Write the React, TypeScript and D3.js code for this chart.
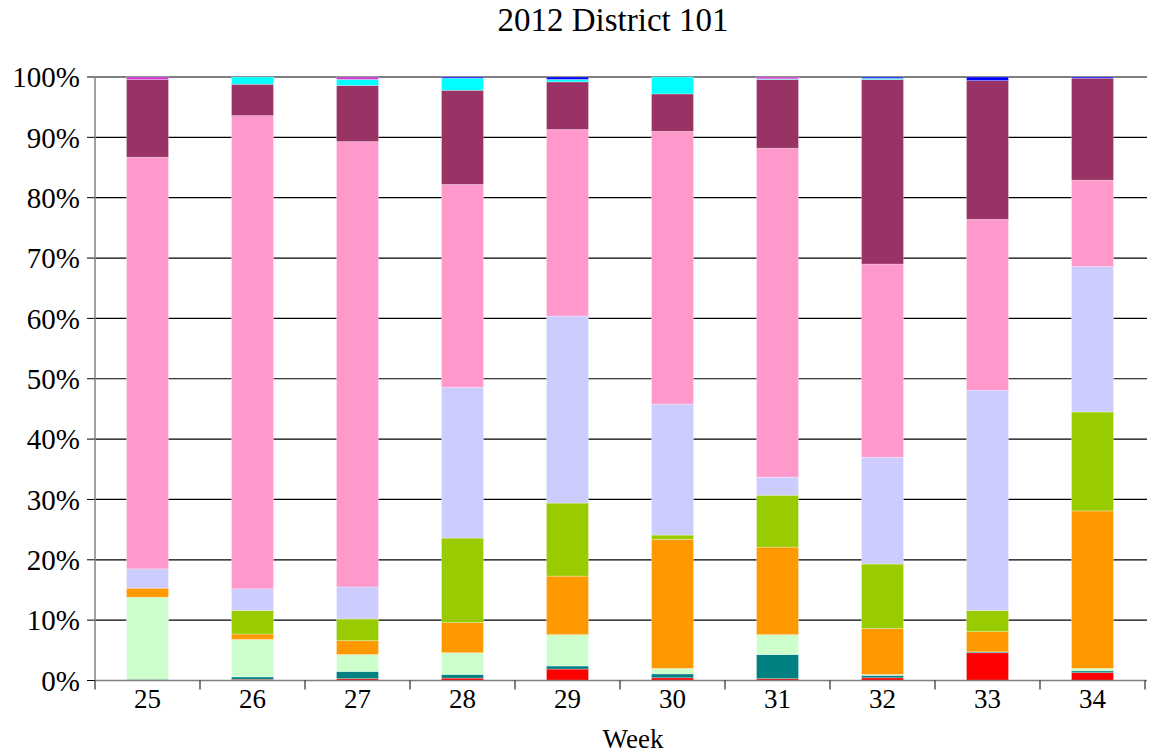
import React from "react";
import * as d3 from "d3";

const weeks = ["25", "26", "27", "28", "29", "30", "31", "32", "33", "34"];
const seriesKeys = ["s1", "s2", "s3", "s4", "s5", "s6", "s7", "s8", "s9", "s10", "s11"];
const seriesColors = ["#FF0000", "#008080", "#CCFFCC", "#FF9900", "#99CC00", "#CCCCFF", "#FF99CC", "#993366", "#00FFFF", "#0000FF", "#CC33CC"];

// percentage shares per week, bottom to top
const s1 = [0.1, 0.2, 0.3, 0.4, 1.9, 0.45, 0.3, 0.45, 4.6, 1.3];
const s2 = [0.1, 0.4, 1.2, 0.6, 0.5, 0.65, 4.0, 0.4, 0.15, 0.3];
const s3 = [13.6, 6.2, 2.8, 3.6, 5.2, 0.9, 3.3, 0.15, 0, 0.4];
const s4 = [1.5, 0.9, 2.3, 5.0, 9.7, 21.4, 14.5, 7.6, 3.35, 26.1];
const s5 = [0, 3.9, 3.6, 14.0, 12.1, 0.7, 8.6, 10.7, 3.5, 16.4];
const s6 = [3.2, 3.6, 5.3, 25.0, 31.0, 21.7, 3.0, 17.7, 36.5, 24.1];
const s7 = [68.2, 78.4, 73.8, 33.6, 30.9, 45.2, 54.5, 32.0, 28.3, 14.3];
const s8 = [12.9, 5.2, 9.3, 15.6, 7.9, 6.2, 11.4, 30.6, 23.0, 16.9];
const s9 = [0, 1.2, 1.0, 2.0, 0.4, 2.8, 0.1, 0.2, 0, 0];
const s10 = [0, 0, 0, 0.2, 0.4, 0, 0, 0.2, 0.6, 0.2];
const s11 = [0.4, 0, 0.4, 0, 0, 0, 0.3, 0, 0, 0];

const yTicks = [0, 10, 20, 30, 40, 50, 60, 70, 80, 90, 100];

const allSeries = [s1, s2, s3, s4, s5, s6, s7, s8, s9, s10, s11];

const rows = weeks.map((w, i) => {
  const r: any = { week: w };
  seriesKeys.forEach((k, j) => (r[k] = allSeries[j][i]));
  return r;
});

const W = 1149;
const H = 756;
const left = 95;
const right = 1145;
const top = 77;
const bottom = 680.5;
const FONT = "'Liberation Serif', 'Times New Roman', serif";

export default function App() {
  const x = d3.scaleBand<string>().domain(weeks).range([left, right]).paddingInner(0.6).paddingOuter(0.3);
  const y = d3.scaleLinear().domain([0, 100]).range([bottom, top]);
  const stacked = d3.stack<any>().keys(seriesKeys)(rows);
  const step = x.step();
  const bandStarts = weeks.map((w) => (x(w) as number) - (step - x.bandwidth()) / 2);

  return (
    <svg width={W} height={H} style={{ position: "absolute", left: 0, top: 0, background: "#fff" }}>
      <text x={613} y={31} textAnchor="middle" fontFamily={FONT} fontSize={33} fill="#000">
        2012 District 101
      </text>
      {yTicks.map((t) => (
        <g key={t}>
          {t > 0 && (
            <line x1={left} x2={right + 2} y1={y(t)} y2={y(t)} stroke="#000" strokeWidth={1.2} />
          )}
          <line x1={left - 8} x2={left} y1={y(t)} y2={y(t)} stroke="#000" strokeWidth={1} />
          <text x={80} y={y(t)} dy="0.35em" textAnchor="end" fontFamily={FONT} fontSize={29} fill="#000">
            {t}%
          </text>
        </g>
      ))}
      {stacked.map((layer, j) => (
        <g key={layer.key} fill={seriesColors[j]}>
          {layer.map((d, i) =>
            d[1] - d[0] > 0 ? (
              <rect
                key={i}
                x={x(weeks[i])}
                width={x.bandwidth()}
                y={y(d[1])}
                height={y(d[0]) - y(d[1])}
                stroke="rgba(255,255,255,0.35)"
                strokeWidth={0.8}
              />
            ) : null
          )}
        </g>
      ))}
      <line x1={left} x2={left} y1={top} y2={bottom} stroke="#808080" strokeWidth={1.5} />
      <line x1={left} x2={right + 2} y1={bottom} y2={bottom} stroke="#808080" strokeWidth={1.5} />
      {bandStarts.concat([right]).map((bx, i) => (
        <line key={i} x1={bx} x2={bx} y1={bottom} y2={bottom + 9} stroke="#000" strokeWidth={1} />
      ))}
      {weeks.map((w) => (
        <text
          key={w}
          x={(x(w) as number) + x.bandwidth() / 2}
          y={708}
          textAnchor="middle"
          fontFamily={FONT}
          fontSize={27}
          fill="#000"
        >
          {w}
        </text>
      ))}
      <text x={633} y={748} textAnchor="middle" fontFamily={FONT} fontSize={27} fill="#000">
        Week
      </text>
    </svg>
  );
}
